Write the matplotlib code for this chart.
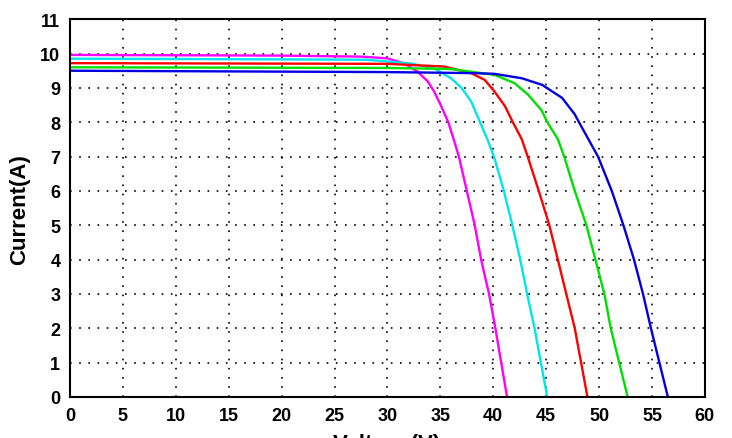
import matplotlib
matplotlib.use("Agg")
import matplotlib.pyplot as plt

plt.rcParams['font.family'] = ['Liberation Sans', 'DejaVu Sans']

# I-V curves (voltage in V, current in A)
v_magenta = [0, 20, 27.5, 30, 31.6, 32.85, 33.8, 34.4, 35.0, 35.75, 36.3, 36.75, 37.5, 38.25, 38.85, 39.6, 40.2, 40.75, 41.3]
i_magenta = [9.96, 9.94, 9.91, 9.86, 9.71, 9.47, 9.19, 8.9, 8.52, 8.0, 7.46, 7.0, 6.0, 5.0, 4.0, 3.0, 2.0, 1.0, 0.0]

v_cyan = [0, 20, 28, 32.2, 34.4, 36.0, 37.0, 37.9, 38.75, 39.5, 40.06, 41.0, 41.8, 42.55, 43.2, 43.9, 44.5, 45.1]
i_cyan = [9.85, 9.83, 9.82, 9.71, 9.57, 9.28, 9.0, 8.61, 8.0, 7.46, 7.0, 6.0, 5.0, 4.0, 3.0, 2.0, 1.0, 0.0]

v_red = [0, 30, 35.4, 37.9, 39.2, 40.1, 41.1, 41.85, 42.7, 43.25, 44.3, 45.3, 46.1, 46.9, 47.7, 48.3, 48.9]
i_red = [9.72, 9.7, 9.62, 9.43, 9.23, 8.9, 8.47, 8.0, 7.5, 7.0, 6.0, 5.0, 4.0, 3.0, 2.0, 1.0, 0.0]

v_green = [0, 30, 36, 40.1, 42.0, 43.3, 44.6, 45.1, 46.1, 46.7, 47.7, 48.8, 49.65, 50.5, 51.1, 51.9, 52.7]
i_green = [9.6, 9.58, 9.55, 9.38, 9.14, 8.8, 8.33, 8.0, 7.51, 7.0, 6.0, 5.0, 4.0, 3.0, 2.0, 1.0, 0.0]

v_blue = [0, 30, 38, 40.1, 42.7, 44.6, 46.5, 47.7, 48.1, 49.9, 51.2, 52.3, 53.3, 54.15, 54.9, 55.7, 56.5]
i_blue = [9.5, 9.46, 9.43, 9.41, 9.28, 9.09, 8.71, 8.23, 8.0, 7.0, 6.0, 5.0, 4.0, 3.0, 2.0, 1.0, 0.0]

x_ticks = list(range(0, 61, 5))
y_ticks = list(range(0, 12))

fig = plt.figure(figsize=(7.32, 4.39), dpi=100)
ax = fig.add_axes([0.0956, 0.0934, 0.8674, 0.8606])

ax.plot(v_magenta, i_magenta, color='#ff00ff', lw=1.7)
ax.plot(v_cyan, i_cyan, color='#00e5ee', lw=1.7)
ax.plot(v_red, i_red, color='#ff0000', lw=1.7)
ax.plot(v_green, i_green, color='#00e000', lw=1.7)
ax.plot(v_blue, i_blue, color='#0000e0', lw=1.7)

ax.set_xlim(0, 60)
ax.set_ylim(0, 11)
ax.set_xticks(x_ticks)
ax.set_yticks(y_ticks)
ax.grid(True, color='black', linestyle=(0, (1, 4.5)), linewidth=1.2)
ax.tick_params(length=0, pad=7, labelsize=13)
for lbl in ax.get_xticklabels() + ax.get_yticklabels():
    lbl.set_fontweight('bold')
for s in ax.spines.values():
    s.set_linewidth(1.5)

ax.set_ylabel("Current(A)", fontsize=16, fontweight='bold', labelpad=7)
ax.set_xlabel("Voltage(V)", fontsize=16, fontweight='bold', labelpad=7)

fig.savefig("out.png", dpi=100)
plt.close()
